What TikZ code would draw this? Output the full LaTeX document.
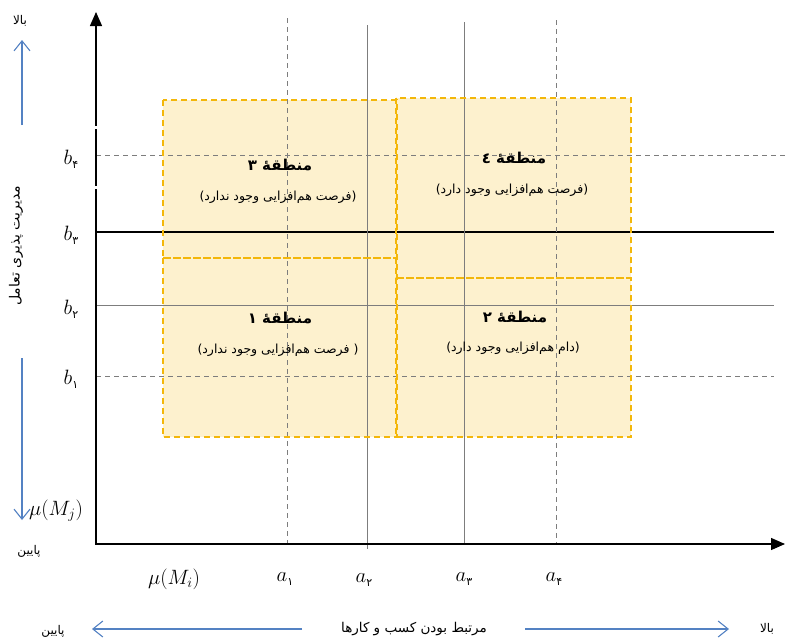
\documentclass[tikz,border=0pt]{standalone}
\usepackage{fontspec}
\usetikzlibrary{arrows.meta}
\newfontfamily\arabicfont[Script=Arabic]{DejaVu Sans}
\TeXXeTstate=1
\definecolor{boxfill}{RGB}{253,241,206}
\definecolor{boxline}{RGB}{243,183,10}
\definecolor{gridgray}{RGB}{125,125,125}
\definecolor{arrowblue}{RGB}{84,130,195}
\newcommand{\fasub}[1]{\raisebox{-0.45ex}{\arabicfont\fontsize{11}{12}\selectfont #1}}
\tikzset{
  region/.style={fill=boxfill},
  regionedge/.style={draw=boxline, line width=1.4pt, dash pattern=on 6pt off 4pt},
  gdash/.style={draw=gridgray, line width=0.9pt, dash pattern=on 5pt off 4pt},
  gsolid/.style={draw=gridgray, line width=0.9pt},
  axisline/.style={line width=1.3pt},
  bluearrow/.style={draw=arrowblue, line width=1.1pt, -{Straight Barb[length=10pt,width=16pt]}},
  zonetitle/.style={font=\arabicfont\bfseries\fontsize{15}{17}\selectfont, inner sep=0pt},
  zonetext/.style={font=\arabicfont\fontsize{12.5}{14}\selectfont, inner sep=0pt},
  falabel/.style={font=\arabicfont\fontsize{12}{14}\selectfont, inner sep=0pt},
  mathlabel/.style={font=\fontsize{22}{26}\selectfont, inner sep=0pt},
}
\begin{document}
\begin{tikzpicture}[x=1pt,y=-1pt]
\useasboundingbox (0,0) rectangle (786,640);

% region fills
\path[region] (163,100) rectangle (397,258);
\path[region] (163,258) rectangle (397,437);
\path[region] (396,98) rectangle (631,278);
\path[region] (396,278) rectangle (631,437);

% axis coordinates
\coordinate (O) at (96,544);
\coordinate (Ytop) at (96,12);
\coordinate (Xend) at (785,544);

% horizontal grid lines
\coordinate (b4l) at (96,155);  \coordinate (b4r) at (786,155);
\coordinate (b3l) at (96,232);  \coordinate (b3r) at (774,232);
\coordinate (b2l) at (96,305);  \coordinate (b2r) at (774,305);
\coordinate (b1l) at (96,376);  \coordinate (b1r) at (774,376);
\draw[gdash] (b4l) -- (b4r);
\draw[black, line width=1.1pt] (b3l) -- (b3r);
\draw[gsolid] (b2l) -- (b2r);
\draw[gdash] (b1l) -- (b1r);

% vertical grid lines
\coordinate (a1t) at (287,18);  \coordinate (a1b) at (287,544);
\coordinate (a2t) at (367,25);  \coordinate (a2b) at (367,549);
\coordinate (a3t) at (464,22);  \coordinate (a3b) at (464,544);
\coordinate (a4t) at (556,20);  \coordinate (a4b) at (556,544);
\draw[gdash] (a1t) -- (a1b);
\draw[gsolid] (a2t) -- (a2b);
\draw[gsolid] (a3t) -- (a3b);
\draw[gdash] (a4t) -- (a4b);

% region borders
\draw[regionedge] (163,100) rectangle (397,258);
\draw[regionedge] (163,258) rectangle (397,437);
\draw[regionedge] (396,98) rectangle (631,278);
\draw[regionedge] (396,278) rectangle (631,437);

% axes
\draw[axisline, {Triangle[length=14pt,width=12pt]}-{Triangle[length=14pt,width=12pt]}] (Ytop) -- (O) -- (Xend);
\fill[white] (94,126) rectangle (98,128.5);
\fill[white] (94,186) rectangle (98,188.5);

% zone labels
\node[zonetitle] (z3t) at (280,165) {\beginR منطقهٔ ۳\endR};
\node[zonetext]  (z3s) at (278,197) {\beginR (فرصت هم^^^^200cافزایی وجود ندارد)\endR};
\node[zonetitle] (z4t) at (514,158) {\beginR منطقهٔ ٤\endR};
\node[zonetext]  (z4s) at (512,190) {\beginR (فرصت هم^^^^200cافزایی وجود دارد)\endR};
\node[zonetitle] (z1t) at (280,318) {\beginR منطقهٔ ۱\endR};
\node[zonetext]  (z1s) at (278,350) {\beginR ( فرصت هم^^^^200cافزایی وجود ندارد)\endR};
\node[zonetitle] (z2t) at (515,317) {\beginR منطقهٔ ۲\endR};
\node[zonetext]  (z2s) at (513,348) {\beginR (دام هم^^^^200cافزایی وجود دارد)\endR};

% y-axis value labels
\node[mathlabel] (lb4) at (71,159) {$b$\fasub{۴}};
\node[mathlabel] (lb3) at (71,235) {$b$\fasub{۳}};
\node[mathlabel] (lb2) at (71,309) {$b$\fasub{۲}};
\node[mathlabel] (lb1) at (71,379) {$b$\fasub{۱}};
\node[mathlabel] (lmj) at (56,511) {$\mu(M_j)$};

% x-axis value labels
\node[mathlabel] (lmi) at (174,579) {$\mu(M_i)$};
\node[mathlabel] (la1) at (285,579) {$a$\fasub{۱}};
\node[mathlabel] (la2) at (364,580) {$a$\fasub{۲}};
\node[mathlabel] (la3) at (464,579) {$a$\fasub{۳}};
\node[mathlabel] (la4) at (554,579) {$a$\fasub{۴}};

% left side axis description
\node[falabel] (yhigh) at (20,21) {\beginR بالا\endR};
\coordinate (upS) at (22,125);
\coordinate (upE) at (22,40);
\draw[bluearrow] (upS) -- (upE);
\node[falabel, font=\arabicfont\fontsize{14}{16}\selectfont, rotate=90] (ytitle) at (16,246) {\beginR مدیریت پذیری تعامل\endR};
\coordinate (dnS) at (22,358);
\coordinate (dnE) at (22,520);
\draw[bluearrow] (dnS) -- (dnE);
\node[falabel] (ylow) at (29,551) {\beginR پایین\endR};

% bottom axis description
\node[falabel] (xlow) at (53,631) {\beginR پایین\endR};
\node[falabel, font=\arabicfont\fontsize{13.5}{16}\selectfont] (xtitle) at (414,629) {\beginR مرتبط بودن کسب و کارها\endR};
\node[falabel] (xhigh) at (767,629) {\beginR بالا\endR};
\coordinate (lfS) at (302,629);
\coordinate (lfE) at (92,629);
\draw[bluearrow] (lfS) -- (lfE);
\coordinate (rtS) at (525,629);
\coordinate (rtE) at (729,629);
\draw[bluearrow] (rtS) -- (rtE);
\end{tikzpicture}
\end{document}
